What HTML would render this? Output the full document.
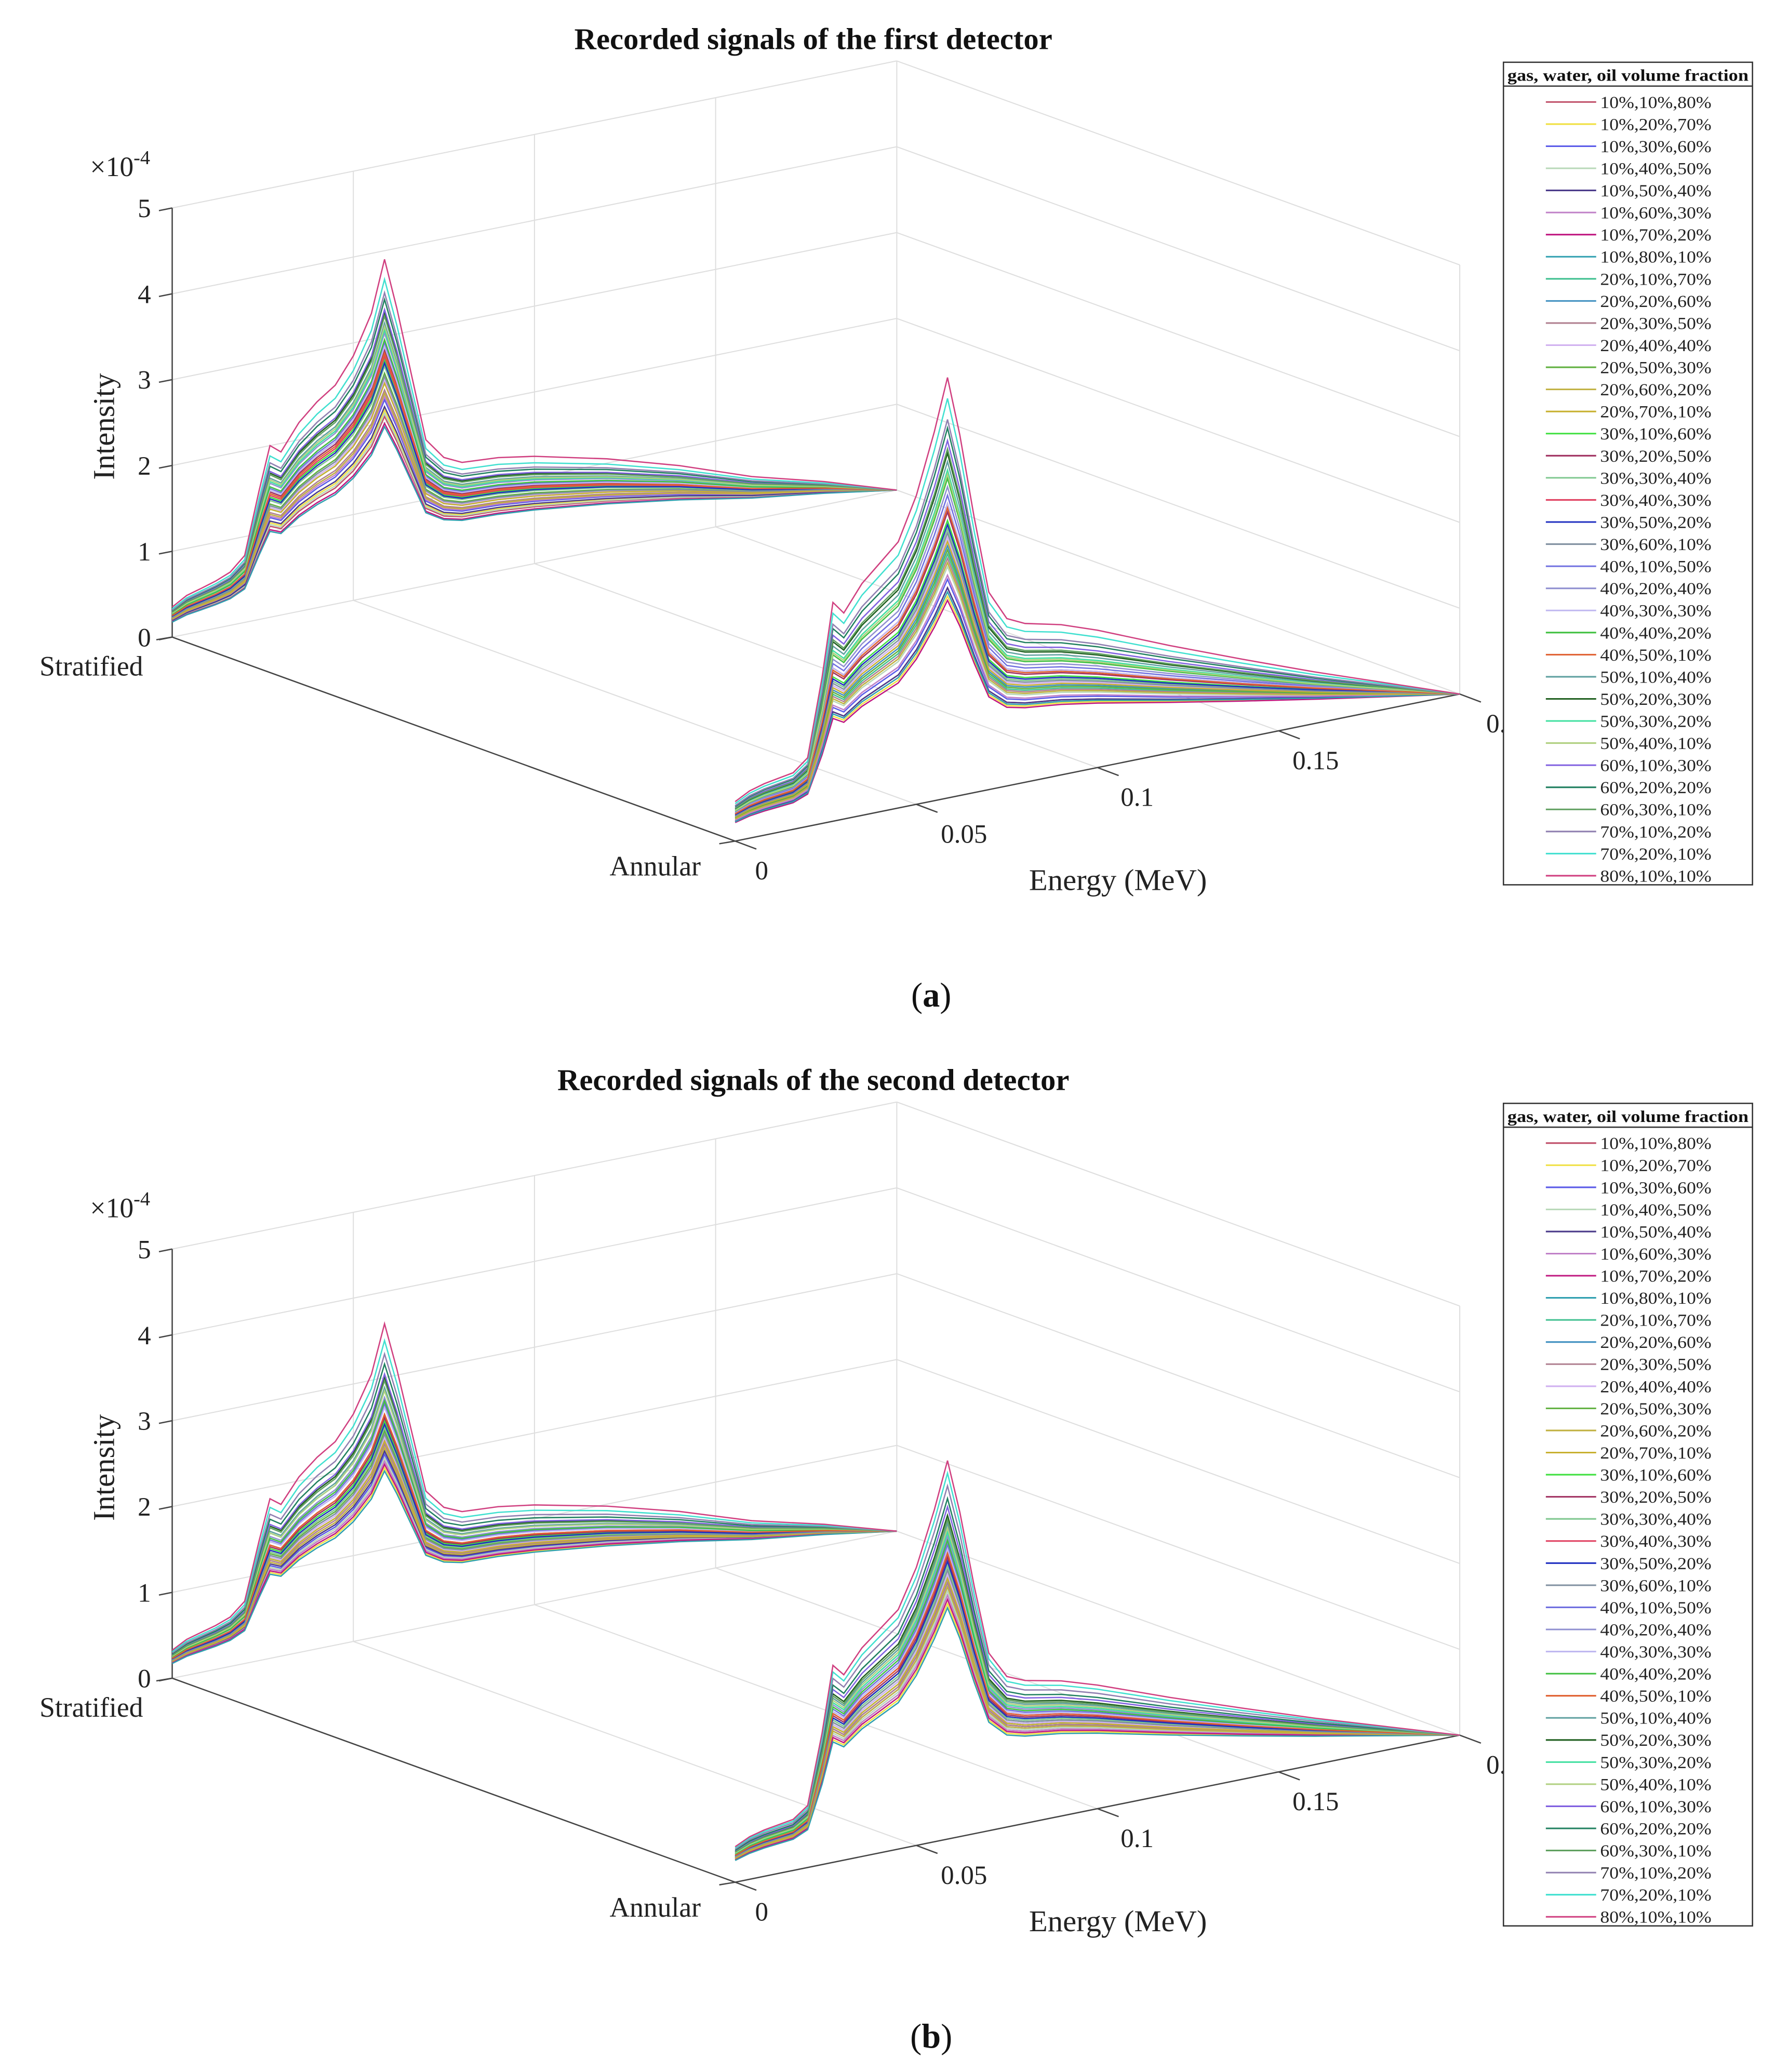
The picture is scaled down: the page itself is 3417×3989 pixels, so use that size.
<!DOCTYPE html>
<html><head><meta charset="utf-8"><style>
html,body{margin:0;padding:0;background:#fff;}
svg{display:block;font-family:"Liberation Serif",serif;}
</style></head><body>
<svg id="fig" width="3417" height="3989" viewBox="0 0 1340 1564.3" preserveAspectRatio="none" xmlns="http://www.w3.org/2000/svg"></svg>
<script>
const energies=[0,0.004,0.008,0.012,0.016,0.02,0.024,0.027,0.03,0.035,0.04,0.045,0.05,0.055,0.0586,0.062,0.066,0.07,0.075,0.08,0.09,0.1,0.12,0.14,0.16,0.18,0.2];
const stratShape=[0.35,0.45,0.5,0.55,0.62,0.78,1.5,2.0,1.9,2.2,2.4,2.55,2.85,3.3,3.9,3.3,2.5,1.7,1.45,1.35,1.32,1.25,1.05,0.8,0.5,0.27,0];
const annShape=[0.46,0.55,0.6,0.63,0.66,0.8,1.7,2.55,2.4,2.7,2.9,3.1,3.6,4.3,4.9,4.2,3.2,2.3,1.95,1.85,1.75,1.6,1.25,0.92,0.6,0.3,0];
const seriesLabels=["10%,10%,80%","10%,20%,70%","10%,30%,60%","10%,40%,50%","10%,50%,40%","10%,60%,30%","10%,70%,20%","10%,80%,10%","20%,10%,70%","20%,20%,60%","20%,30%,50%","20%,40%,40%","20%,50%,30%","20%,60%,20%","20%,70%,10%","30%,10%,60%","30%,20%,50%","30%,30%,40%","30%,40%,30%","30%,50%,20%","30%,60%,10%","40%,10%,50%","40%,20%,40%","40%,30%,30%","40%,40%,20%","40%,50%,10%","50%,10%,40%","50%,20%,30%","50%,30%,20%","50%,40%,10%","60%,10%,30%","60%,20%,20%","60%,30%,10%","70%,10%,20%","70%,20%,10%","80%,10%,10%"];
const seriesColors=["#c0506a","#f0e040","#5a5ae8","#b8d8b8","#4a3a8a","#c080c8","#c01880","#30a0b0","#40c090","#4090c0","#b08090","#d0b0f0","#60b040","#c0b040","#c8b030","#40e040","#a03060","#80c890","#e04060","#2030c0","#8090a0","#7070e0","#9090d0","#c0b8f0","#40c040","#e06030","#60a0a0","#206020","#40e0a0","#b0d080","#8060e0","#208060","#60a060","#9080b0","#40e0d0","#d04080"];
const scaleAStrat=[0.53,0.55,0.58,0.54,0.56,0.59,0.51,0.5,0.63,0.65,0.61,0.64,0.66,0.6,0.63,0.7,0.73,0.68,0.71,0.69,0.65,0.75,0.78,0.74,0.76,0.72,0.81,0.84,0.79,0.8,0.85,0.88,0.83,0.9,0.94,1.0];
const scaleAAnn=[0.5,0.48,0.52,0.55,0.5,0.53,0.47,0.49,0.58,0.6,0.57,0.62,0.59,0.56,0.61,0.66,0.68,0.64,0.7,0.65,0.63,0.72,0.74,0.7,0.76,0.69,0.8,0.82,0.78,0.77,0.85,0.88,0.83,0.9,0.95,1.0];
const scaleBStrat=[0.52,0.5,0.54,0.53,0.55,0.52,0.51,0.49,0.58,0.6,0.57,0.59,0.61,0.56,0.58,0.64,0.65,0.62,0.66,0.63,0.6,0.69,0.71,0.68,0.7,0.66,0.74,0.77,0.73,0.73,0.78,0.81,0.76,0.84,0.88,0.93];
const scaleBAnn=[0.58,0.56,0.6,0.59,0.61,0.58,0.57,0.55,0.62,0.63,0.61,0.63,0.64,0.6,0.62,0.66,0.67,0.65,0.68,0.66,0.64,0.7,0.72,0.69,0.71,0.68,0.75,0.77,0.73,0.74,0.79,0.81,0.76,0.84,0.87,0.9];
const zTicks=[0,1,2,3,4,5];
const eTicks=[0,0.05,0.1,0.15];
const eTickLabels=["0","0.05","0.1","0.15"];

const NS="http://www.w3.org/2000/svg";
const svg=document.getElementById('fig');
function mk(tag,attrs,parent){const e=document.createElementNS(NS,tag);for(const k in attrs)e.setAttribute(k,attrs[k]);(parent||svg).appendChild(e);return e;}
function txt(s,attrs,parent){const e=mk('text',attrs,parent);e.textContent=s;return e;}

function panel(dy,title,sStrat,sAnn,label,key){
  const g=mk('g',{});
  
  
  const O=[130,481+dy];
  const P=(E,y,z)=>[O[0]+E/0.2*547+y*425, O[1]-E/0.2*111+y*154-z/5*324];
  const line=(a,b,st,w,name)=>{const l=mk('line',{x1:a[0],y1:a[1],x2:b[0],y2:b[1],stroke:st,'stroke-width':w},g);
    return l;};
  const grid='#dedede';
  zTicks.forEach(z=>{line(P(0,0,z),P(0.2,0,z),grid,0.8,'wall-gridline');});
  [0.05,0.1,0.15,0.2].forEach(E=>{line(P(E,0,0),P(E,0,5),grid,0.8,'wall-gridline');});
  zTicks.forEach(z=>{line(P(0.2,0,z),P(0.2,1,z),grid,0.8,'wall-gridline');});
  line(P(0.2,1,0),P(0.2,1,5),grid,0.8,'wall-gridline');
  [0.05,0.1,0.15].forEach(E=>{line(P(E,0,0),P(E,1,0),grid,0.8,'floor-gridline');});
  line(P(0,0,0),P(0,0,5),'#444',1,'z-axis');
  line(P(0,0,0),P(0,1,0),'#444',1,'flow-axis');
  line(P(0,1,0),P(0.2,1,0),'#444',1,'energy-axis');
  zTicks.forEach(z=>{const p=P(0,0,z);line(p,[p[0]-10,p[1]+2],'#444',1,'z-tick');
    const t=txt(String(z),{x:p[0]-16,y:p[1]+7,'font-size':20,'text-anchor':'end',fill:'#222'},g);
    });
  [0,1].forEach(y=>{const p=P(0,y,0);line(p,[p[0]-12,p[1]+2],'#444',1,'flow-tick');});
  eTicks.concat([0.2]).forEach(E=>{const p=P(E,1,0);line(p,[p[0]+16,p[1]+6],'#444',1,'energy-tick');});
  const eOff=[20,36,30,28];
  eTicks.forEach((E,i)=>{const p=P(E,1,0);const t=txt(eTickLabels[i],{x:p[0]+eOff[i],y:p[1]+29,'font-size':20,'text-anchor':'middle',fill:'#222'},g);
    });
  const p2=P(0.2,1,0);
  const t2=txt('0.',{x:p2[0]+20,y:p2[1]+29,'font-size':20,fill:'#222'},g);
  
  const ps=P(0,0,0),pa=P(0,1,0);
  let t=txt('Stratified',{x:ps[0]-22,y:ps[1]+29,'font-size':21,'text-anchor':'end',fill:'#222'},g);
  
  t=txt('Annular',{x:pa[0]-26,y:pa[1]+26,'font-size':21,'text-anchor':'end',fill:'#222'},g);
  
  t=txt('Energy (MeV)',{x:844,y:672+dy,'font-size':23,'text-anchor':'middle',fill:'#222'},g);
  
  t=txt('Intensity',{x:0,y:0,'font-size':23,'text-anchor':'middle',fill:'#222',transform:`translate(86,${322+dy}) rotate(-90)`},g);
  
  t=txt('',{x:68,y:133+dy,'font-size':21,fill:'#222'},g);
  t.innerHTML='×10<tspan dy="-9" font-size="15">-4</tspan>';
  
  t=txt(title,{x:614,y:37+dy,'font-size':23,'font-weight':'bold','text-anchor':'middle',fill:'#111'},g);
  
  [[0,stratShape,sStrat],[1,annShape,sAnn]].forEach(([yy,shape,sc])=>{
    for(let i=0;i<seriesLabels.length;i++){
      const pts=energies.map((E,j)=>P(E,yy,shape[j]*sc[i]).map(v=>v.toFixed(1)).join(',')).join(' ');
      const pl=mk('polyline',{points:pts,fill:'none',stroke:seriesColors[i],'stroke-width':1},g);
      
      
    }
  });
  const lg=mk('g',{},g);
  
  
  mk('rect',{x:1135,y:47+dy,width:188,height:621,fill:'#fff',stroke:'#333','stroke-width':1},lg);
  mk('line',{x1:1135,y1:65+dy,x2:1323,y2:65+dy,stroke:'#333','stroke-width':1},lg);
  t=txt('gas, water, oil volume fraction',{x:1138,y:61+dy,'font-size':12.5,'font-weight':'bold',textLength:182,lengthAdjust:'spacingAndGlyphs',fill:'#111'},lg);
  
  seriesLabels.forEach((s,i)=>{
    const y=77+dy+i*16.69;
    const e=mk('g',{},lg);
    
    
    mk('line',{x1:1167,y1:y,x2:1205,y2:y,stroke:seriesColors[i],'stroke-width':1.2},e);
    txt(s,{x:1208,y:y+4.5,'font-size':13,textLength:84,lengthAdjust:'spacingAndGlyphs',fill:'#222'},e);
  });
  t=txt('',{x:703,y:760+dy,'font-size':26,'text-anchor':'middle',fill:'#111'},g);
  t.innerHTML='(<tspan font-weight="bold">'+label+'</tspan>)';
  
}
panel(0,'Recorded signals of the first detector',scaleAStrat,scaleAAnn,'a','first-detector');
panel(786,'Recorded signals of the second detector',scaleBStrat,scaleBAnn,'b','second-detector');
</script>
</body></html>
